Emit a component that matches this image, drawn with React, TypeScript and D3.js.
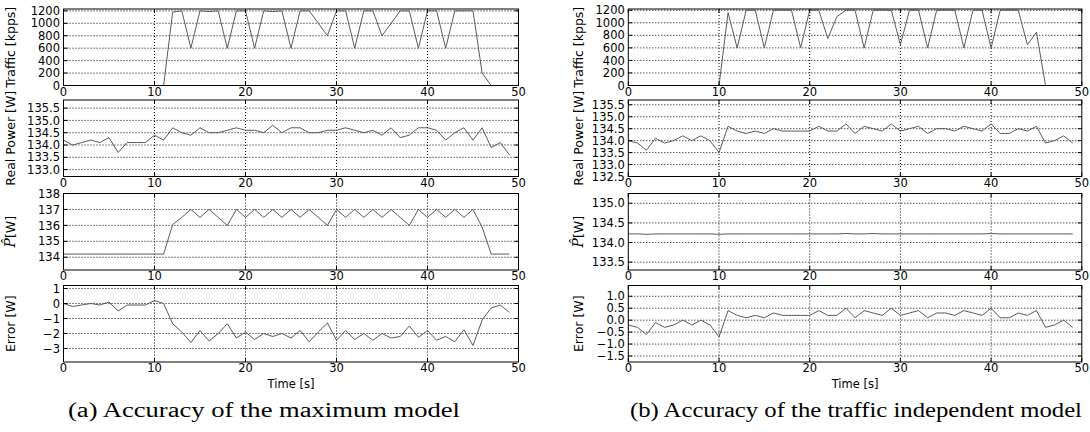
import React from "react";
import * as d3 from "d3";

// time axis, seconds
const timeTicks = [0, 10, 20, 30, 40, 50];

// (a) maximum model
const trafficA = [
  0, 0, 0, 0, 0, 0, 0, 0, 0, 0, 0, 0, 1180, 1200, 600, 1200, 1190, 1200, 600, 1200,
  1200, 600, 1200, 1190, 1200, 600, 1200, 1200, 1000, 800, 1200, 1200, 600, 1200, 1200, 800,
  1000, 1200, 1200, 600, 1200, 1200, 600, 1200, 1200, 1200, 200, 0
];
const realA = [
  134.2, 134.0, 134.1, 134.2, 134.1, 134.3, 133.7, 134.1, 134.1, 134.1,
  134.4, 134.2, 134.7, 134.5, 134.4, 134.7, 134.5, 134.5, 134.6, 134.7,
  134.6, 134.6, 134.5, 134.8, 134.5, 134.7, 134.7, 134.5, 134.5, 134.6,
  134.6, 134.7, 134.6, 134.5, 134.6, 134.4, 134.7, 134.3, 134.4, 134.7,
  134.7, 134.6, 134.2, 134.5, 134.7, 134.2, 134.7, 133.9, 134.1, 133.6
];
const predA = [
  134.2, 134.2, 134.2, 134.2, 134.2, 134.2, 134.2, 134.2, 134.2, 134.2,
  134.2, 134.2, 136.05, 136.5, 137, 136.5, 137, 136.5, 136.0, 137,
  136.5, 137, 136.5, 137, 136.5, 137, 136.5, 137, 136.5, 136.0,
  137, 136.5, 137, 136.5, 137, 136.5, 137, 136.5, 136.0, 137,
  136.5, 137, 136.5, 137, 136.5, 137, 135.9, 134.2, 134.2, 134.2
];
const errorA = [
  0.0, -0.2, -0.1, 0.0, -0.1, 0.1, -0.5, -0.1, -0.1, -0.1,
  0.2, 0.0, -1.35, -1.9, -2.6, -1.8, -2.5, -2.0, -1.35, -2.3,
  -1.9, -2.4, -2.0, -2.2, -2.0, -2.3, -1.8, -2.55, -1.9, -1.3,
  -2.45, -1.8, -2.4, -2.0, -2.45, -2.0, -2.3, -2.2, -1.5, -2.25,
  -1.8, -2.45, -2.2, -2.55, -1.75, -2.8, -1.1, -0.3, -0.1, -0.6
];

// (b) traffic independent model
const trafficB = [
  0, 0, 0, 0, 0, 0, 0, 0, 0, 0, 0, 1160, 600, 1200, 1200, 600, 1200, 1200, 1200, 600,
  1200, 1200, 750, 1100, 1200, 1200, 600, 1200, 1200, 1200, 650, 1200, 1200, 600, 1200, 1200,
  1200, 600, 1200, 1200, 600, 1200, 1200, 1200, 650, 850, 0
];
const realB = [
  134.0, 133.9, 133.6, 134.1, 133.9, 134.0, 134.2, 134.0, 134.2, 134.0,
  133.5, 134.6, 134.4, 134.3, 134.4, 134.3, 134.5, 134.4, 134.4, 134.4,
  134.4, 134.6, 134.4, 134.4, 134.7, 134.3, 134.6, 134.5, 134.4, 134.7,
  134.4, 134.5, 134.6, 134.3, 134.5, 134.5, 134.4, 134.6, 134.5, 134.4,
  134.7, 134.3, 134.3, 134.5, 134.4, 134.6, 133.9, 134.0, 134.2, 133.9
];
const predB = [
  134.22, 134.22, 134.21, 134.22, 134.22, 134.22, 134.22, 134.22, 134.22, 134.22,
  134.21, 134.22, 134.22, 134.22, 134.22, 134.22, 134.22, 134.22, 134.22, 134.22,
  134.22, 134.22, 134.22, 134.22, 134.23, 134.22, 134.22, 134.23, 134.22, 134.22,
  134.22, 134.22, 134.22, 134.22, 134.22, 134.22, 134.22, 134.22, 134.22, 134.22,
  134.23, 134.22, 134.22, 134.22, 134.22, 134.22, 134.22, 134.22, 134.22, 134.22
];
const errorB = [
  -0.2, -0.3, -0.6, -0.1, -0.3, -0.2, 0.0, -0.2, 0.0, -0.2,
  -0.7, 0.4, 0.2, 0.1, 0.2, 0.1, 0.3, 0.2, 0.2, 0.2,
  0.2, 0.4, 0.2, 0.2, 0.5, 0.1, 0.4, 0.3, 0.2, 0.5,
  0.2, 0.3, 0.4, 0.1, 0.3, 0.3, 0.2, 0.4, 0.3, 0.2,
  0.5, 0.1, 0.1, 0.3, 0.2, 0.4, -0.3, -0.2, 0.0, -0.3
];

// y ticks
const trafficTicks = [0, 200, 400, 600, 800, 1000, 1200];
const realTicksA = [133.0, 133.5, 134.0, 134.5, 135.0, 135.5];
const predTicksA = [134, 135, 136, 137, 138];
const errorTicksA = [-3, -2, -1, 0, 1];
const realTicksB = [132.5, 133.0, 133.5, 134.0, 134.5, 135.0, 135.5];
const predTicksB = [133.5, 134.0, 134.5, 135.0];
const errorTicksB = [-1.5, -1.0, -0.5, 0.0, 0.5, 1.0];

const tops = [9, 100, 193.5, 285.5];
const panelH = 76.5;
const font = "DejaVu Sans";
const lineColor = "#5a5a5a";

const minus = (s: string) => s.replace("-", "\u2212");
const f0 = (v: number) => minus(d3.format("d")(v));
const f1 = (v: number) => minus(d3.format(".1f")(v));

function Panel({ x0, width, top, values, domain, ticks, fmt, label, labelX, id }: any) {
  const x = d3.scaleLinear().domain([0, 50]).range([x0, x0 + width]);
  const y = d3.scaleLinear().domain(domain).range([top + panelH, top]);
  const line = d3.line<number>().x((_, i) => x(i)).y((d) => y(d));
  const bottom = top + panelH;
  const right = x0 + width;
  return (
    <g>
      <defs>
        <clipPath id={id}>
          <rect x={x0} y={top} width={width} height={panelH} />
        </clipPath>
      </defs>
      {timeTicks.slice(1, -1).map((t) => (
        <line key={"gx" + t} x1={x(t)} x2={x(t)} y1={top} y2={bottom} stroke="#000" strokeWidth={1} strokeDasharray="1,2" />
      ))}
      {ticks.map((t: number) => (
        <line key={"gy" + t} x1={x0} x2={right} y1={y(t)} y2={y(t)} stroke="#000" strokeWidth={1} strokeDasharray="1,2" />
      ))}
      <path d={line(values) || ""} fill="none" stroke={lineColor} strokeWidth={1} clipPath={`url(#${id})`} />
      <rect x={x0} y={top} width={width} height={panelH} fill="none" stroke="#000" strokeWidth={1} />
      {timeTicks.map((t) => (
        <g key={"tx" + t}>
          <line x1={x(t)} x2={x(t)} y1={bottom} y2={bottom - 4} stroke="#000" />
          <line x1={x(t)} x2={x(t)} y1={top} y2={top + 4} stroke="#000" />
          <text x={x(t)} y={bottom + 10} fontSize={11.5} fontFamily={font} textAnchor="middle">{t}</text>
        </g>
      ))}
      {ticks.map((t: number) => (
        <g key={"ty" + t}>
          <line x1={x0} x2={x0 + 4} y1={y(t)} y2={y(t)} stroke="#000" />
          <line x1={right} x2={right - 4} y1={y(t)} y2={y(t)} stroke="#000" />
          <text x={x0 - 3.5} y={y(t)} dy="0.36em" fontSize={11.5} fontFamily={font} textAnchor="end">{fmt(t)}</text>
        </g>
      ))}
      <text transform={`translate(${labelX},${top + panelH / 2}) rotate(-90)`} fontSize={12.5} fontFamily={font} textAnchor="middle">
        {label}
      </text>
    </g>
  );
}

const pHat = (
  <>
    <tspan fontStyle="italic" fontFamily="DejaVu Serif" fontSize={14}>P&#770;</tspan>
    <tspan>[W]</tspan>
  </>
);

function Figure({ x0, width, labelX, traffic, real, pred, error, realDom, predDom, errDom, trafDom, realTicks, predTicks, errTicks, realFmt, predFmt, errFmt, caption, capX, capLen, tag }: any) {
  const panels = [
    { values: traffic, domain: trafDom, ticks: trafficTicks, fmt: f0, label: "Traffic [kpps]" },
    { values: real, domain: realDom, ticks: realTicks, fmt: realFmt, label: "Real Power [W]" },
    { values: pred, domain: predDom, ticks: predTicks, fmt: predFmt, label: pHat },
    { values: error, domain: errDom, ticks: errTicks, fmt: errFmt, label: "Error [W]" }
  ];
  return (
    <g>
      {panels.map((p, i) => (
        <Panel key={i} id={`${tag}${i}`} x0={x0} width={width} top={tops[i]} labelX={labelX} {...p} />
      ))}
      <text x={x0 + width / 2} y={388} fontSize={11.5} fontFamily={font} textAnchor="middle">Time [s]</text>
      <text x={capX} y={417} fontSize={20} fontFamily="Liberation Serif" textAnchor="middle" textLength={capLen} lengthAdjust="spacingAndGlyphs">
        {caption}
      </text>
    </g>
  );
}

export default function App() {
  return (
    <svg width={1090} height={432} style={{ position: "absolute", left: 0, top: 0, background: "#fff" }}>
      <rect width={1090} height={432} fill="#fff" />
      <Figure
        tag="a" x0={63.5} width={455} labelX={15}
        traffic={trafficA} real={realA} pred={predA} error={errorA}
        trafDom={[0, 1230]} realDom={[132.72, 135.83]} predDom={[133.2, 138]} errDom={[-3.9, 1.2]}
        realTicks={realTicksA} predTicks={predTicksA} errTicks={errorTicksA}
        realFmt={f1} predFmt={f0} errFmt={f0}
        caption="(a) Accuracy of the maximum model" capX={264} capLen={392}
      />
      <Figure
        tag="b" x0={628.3} width={453.5} labelX={583}
        traffic={trafficB} real={realB} pred={predB} error={errorB}
        trafDom={[0, 1220]} realDom={[132.5, 135.7]} predDom={[133.3, 135.25]} errDom={[-1.75, 1.45]}
        realTicks={realTicksB} predTicks={predTicksB} errTicks={errorTicksB}
        realFmt={f1} predFmt={f1} errFmt={f1}
        caption="(b) Accuracy of the traffic independent model" capX={856} capLen={452}
      />
    </svg>
  );
}
